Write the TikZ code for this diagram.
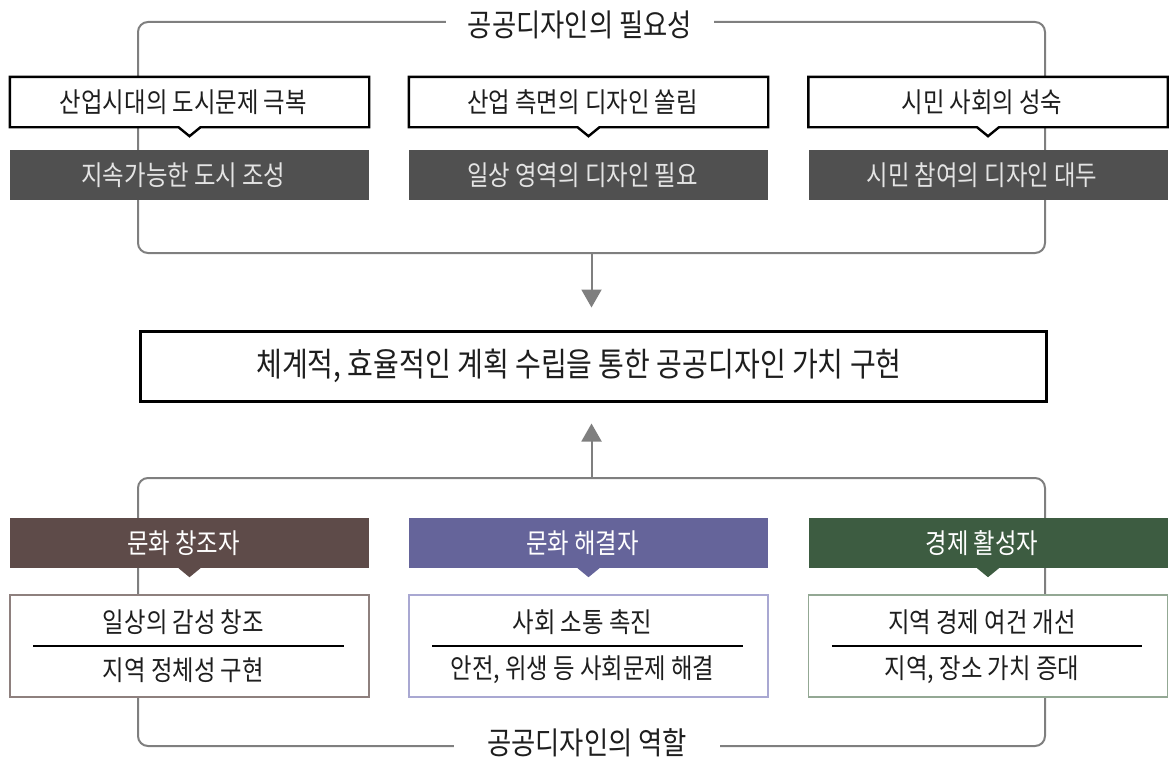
\documentclass[tikz,border=0pt]{standalone}
\usepackage{fontspec}
\setmainfont{Noto Sans CJK KR}[FakeStretch=0.85]
\usetikzlibrary{calc,arrows.meta}
\definecolor{framegray}{HTML}{7F7F7F}
\definecolor{darkfill}{HTML}{505050}
\definecolor{darktext}{HTML}{E4E4E4}
\definecolor{brownfill}{HTML}{5E4B49}
\definecolor{purplefill}{HTML}{65649A}
\definecolor{greenfill}{HTML}{3D5C41}
\definecolor{brownline}{HTML}{8E807E}
\definecolor{purpleline}{HTML}{A9A8D2}
\definecolor{greenline}{HTML}{93A894}
\definecolor{ink}{HTML}{1E1E1E}
\begin{document}
\begin{tikzpicture}[x=1pt,y=-1pt,
 every node/.style={inner sep=0pt, text=ink},
 boxtxt/.style={font=\fontsize{27.5}{32}\selectfont, execute at end node={\kern 12pt}},
 roundframe/.style={draw=framegray, line width=2pt, rounded corners=10pt},
 frametitle/.style={fill=white, inner ysep=0pt, font=\fontsize{31}{36}\selectfont},
 whitebox/.style={boxtxt, fill=white, minimum width=359pt, minimum height=50pt},
 bubbleline/.style={draw=black, line width=2.4pt, line join=miter},
 darkbox/.style={boxtxt, fill=darkfill, text=darktext, minimum width=359pt, minimum height=50pt},
 headbox/.style={boxtxt, fill=#1, text=white, minimum width=359pt, minimum height=50pt},
 rolebox/.style={draw=#1, line width=1.3pt, fill=white, minimum width=359pt, minimum height=102pt},
 roletxt/.style={boxtxt},
 sepline/.style={draw=black, line width=1.5pt},
 flowarrow/.style={draw=framegray, line width=2pt, -{Triangle[length=18pt,width=20pt]}},
 mainbox/.style={draw=black, line width=3pt, fill=white, minimum width=906pt, minimum height=70pt, font=\fontsize{33}{38}\selectfont, execute at end node={\kern 28pt}}
]
\path[use as bounding box] (0,0) rectangle (1169,760);

% ---------- top frame ----------
\node[roundframe, minimum width=907pt, minimum height=231pt] (topframe) at (591.5,137.5) {};
\node[frametitle, inner xsep=22pt] (toptitle) at (580,25) {공공디자인의 필요성};

% top white boxes with pointer
\foreach \i/\x/\t in {1/189.5/산업시대의 도시문제 극복, 2/588.5/산업 측면의 디자인 쏠림, 3/988/시민 사회의 성숙}{
  \node[whitebox] (need\i) at (\x,102) {\t};
  \draw[bubbleline] (need\i.north west) -- (need\i.north east) -- (need\i.south east)
     -- ($(need\i.south)+(11,0)$) -- ($(need\i.south)+(0,9)$) -- ($(need\i.south)+(-11,0)$)
     -- (need\i.south west) -- cycle;
}
\node[darkbox] (cause1) at (189.5,175) {지속가능한 도시 조성};
\node[darkbox] (cause2) at (588.5,175) {일상 영역의 디자인 필요};
\node[darkbox] (cause3) at (988,175) {시민 참여의 디자인 대두};

% ---------- middle ----------
\node[mainbox] (goal) at (593,366) {체계적, 효율적인 계획 수립을 통한 공공디자인 가치 구현};
\draw[flowarrow, shorten >=22pt] (topframe.south) -- (topframe.south |- goal.north);

% ---------- bottom frame ----------
\node[roundframe, minimum width=907pt, minimum height=268pt] (botframe) at (591.5,612) {};
\node[frametitle, inner xsep=33pt] (bottitle) at (587,743) {공공디자인의 역할};
\draw[flowarrow, shorten >=21pt] (botframe.north) -- (botframe.north |- goal.south);

\foreach \i/\x/\c/\l/\t/\a/\b in {
  1/189.5/brownfill/brownline/문화 창조자/일상의 감성 창조/지역 정체성 구현,
  2/588.5/purplefill/purpleline/문화 해결자/사회 소통 촉진/{안전, 위생 등 사회문제 해결},
  3/988/greenfill/greenline/경제 활성자/지역 경제 여건 개선/{지역, 장소 가치 증대}}{
  \node[headbox=\c] (role\i) at (\x,543) {\t};
  \fill[\c] ($(role\i.south)+(-11,0)$) -- ($(role\i.south)+(0,9)$) -- ($(role\i.south)+(11,0)$) -- cycle;
  \node[rolebox=\l] (act\i) at (\x,646) {};
  \node[roletxt] (act\i a) at (\x,622) {\a};
  \node[roletxt] (act\i b) at (\x,670) {\b};
  \draw[sepline] ($(act\i.west)+(24,0)$) -- ($(act\i.east)+(-26,0)$);
}
\end{tikzpicture}
\end{document}
